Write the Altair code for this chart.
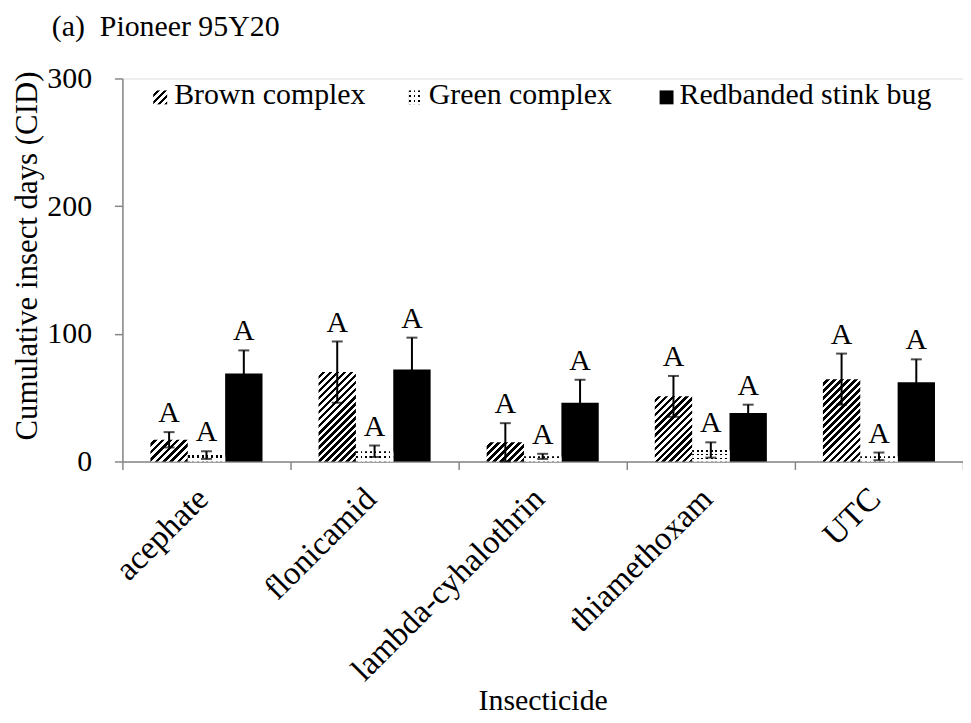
import altair as alt
import pandas as pd

# ---------------- data ----------------
insecticides = ["acephate", "flonicamid", "lambda-cyhalothrin", "thiamethoxam", "UTC"]
series = ["Brown complex", "Green complex", "Redbanded stink bug"]

brown_mean = [17, 70, 15, 51, 64.5]
brown_err = [6, 24, 15, 16, 20]
green_mean = [5, 8, 4, 9, 4]
green_err = [3, 4.5, 2, 6, 3]
red_mean = [69, 72, 46, 38, 62]
red_err = [18, 25, 18, 6.5, 18]

letters_brown = ["A", "A", "A", "A", "A"]
letters_green = ["A", "A", "A", "A", "A"]
letters_red = ["A", "A", "A", "A", "A"]

title_text = "(a)\u00a0 Pioneer 95Y20"

rows = []
for s, means, errs, lets in [
    (series[0], brown_mean, brown_err, letters_brown),
    (series[1], green_mean, green_err, letters_green),
    (series[2], red_mean, red_err, letters_red),
]:
    for c, m, e, l in zip(insecticides, means, errs, lets):
        rows.append({"insecticide": c, "series": s, "mean": m,
                     "lo": max(m - e, 0), "hi": m + e, "letter": l})
df = pd.DataFrame(rows)

# ---------------- layout / style ----------------
FONT = "Liberation Serif"
FS = 30
W, H = 845, 385
YMAX = 300
OUTER = 0.75
BAR_W = W / len(insecticides) / (len(series) + 2 * OUTER)
AXIS_GREY = "#868686"


def hatch(w, h, period=7.0):
    """diagonal '/' stripes via a linear gradient with hard stops"""
    k = (w + h) / (w * w + h * h)
    n = max(1, round((w + h) / period))
    stops = []
    for i in range(n):
        a, b, c = i / n, (i + 0.5) / n, (i + 1) / n
        stops += [alt.GradientStop(offset=a, color="white"),
                  alt.GradientStop(offset=b, color="white"),
                  alt.GradientStop(offset=b, color="black"),
                  alt.GradientStop(offset=c, color="black")]
    return alt.LinearGradient(gradient="linear", stops=stops,
                              x1=0, y1=0, x2=k * w, y2=k * h)


def vstripes(w, period=4.5, frac=0.4):
    n = max(1, round(w / period))
    stops = []
    for i in range(n):
        a, b, c = i / n, (i + frac) / n, (i + 1) / n
        stops += [alt.GradientStop(offset=a, color="black"),
                  alt.GradientStop(offset=b, color="black"),
                  alt.GradientStop(offset=b, color="white"),
                  alt.GradientStop(offset=c, color="white")]
    return alt.LinearGradient(gradient="linear", stops=stops, x1=0, y1=0, x2=1, y2=0)


def hmask(h, period=4.5, frac=0.4):
    n = max(1, round(h / period))
    clear = "rgba(255,255,255,0)"
    stops = []
    for i in range(n):
        a, b, c = i / n, (i + frac) / n, (i + 1) / n
        stops += [alt.GradientStop(offset=a, color=clear),
                  alt.GradientStop(offset=b, color=clear),
                  alt.GradientStop(offset=b, color="white"),
                  alt.GradientStop(offset=c, color="white")]
    return alt.LinearGradient(gradient="linear", stops=stops, x1=0, y1=0, x2=0, y2=1)


x_enc = alt.X("insecticide:N",
              scale=alt.Scale(domain=insecticides, paddingInner=0, paddingOuter=0),
              sort=insecticides,
              axis=alt.Axis(title="Insecticide", labelAngle=-45, labelAlign="right",
                            labelBaseline="middle", labelPadding=24, labelOffset=-4,
                            labelLimit=0, tickBand="extent",
                            tickSize=8, domainColor=AXIS_GREY, tickColor=AXIS_GREY,
                            domainWidth=1.5, tickWidth=1.5,
                            labelFont=FONT, labelFontSize=33, labelColor="black",
                            titleFont=FONT, titleFontSize=FS, titleFontWeight="normal",
                            titleColor="black", titleY=249, titleBaseline="alphabetic"))
xo_enc = alt.XOffset("series:N",
                     scale=alt.Scale(domain=series, paddingInner=0, paddingOuter=OUTER))

y_axis = alt.Axis(title="Cumulative insect days (CID)", values=[0, 100, 200, 300],
                  grid=False, tickSize=8, labelPadding=23, domainColor=AXIS_GREY,
                  tickColor=AXIS_GREY, domainWidth=1.5, tickWidth=1.5,
                  labelFont=FONT, labelFontSize=FS, labelColor="black",
                  titleFont=FONT, titleFontSize=FS + 1, titleFontWeight="normal",
                  titleColor="black", titleX=-86, titleY=178, titleAngle=-90,
                  titleAlign="center", titleBaseline="alphabetic")
y_scale = alt.Scale(domain=[0, YMAX], nice=False, zero=True)


def yq(field):
    return alt.Y(f"{field}:Q", scale=y_scale, axis=y_axis)


base = alt.Chart(df).encode(x=x_enc, xOffset=xo_enc)

layers = []
# Redbanded stink bug: solid black
layers.append(base.transform_filter(alt.datum.series == series[2])
              .mark_bar(color="black").encode(y=yq("mean")))
# Brown complex: hatched
for c, m in zip(insecticides, brown_mean):
    h = m * H / YMAX
    layers.append(base.transform_filter((alt.datum.series == series[0]) &
                                        (alt.datum.insecticide == c))
                  .mark_bar(color=hatch(BAR_W, h)).encode(y=yq("mean")))
# Green complex: dotted
for c, m in zip(insecticides, green_mean):
    h = m * H / YMAX
    f = base.transform_filter((alt.datum.series == series[1]) &
                              (alt.datum.insecticide == c))
    layers.append(f.mark_bar(color=vstripes(BAR_W)).encode(y=yq("mean")))
    layers.append(f.mark_bar(color=hmask(h)).encode(y=yq("mean")))

# error bars
layers.append(base.mark_rule(color="black", strokeWidth=2)
              .encode(y=yq("lo"), y2="hi:Q"))
layers.append(base.mark_tick(color="black", size=11, thickness=2).encode(y=yq("hi")))
layers.append(base.mark_tick(color="black", size=11, thickness=2).encode(y=yq("lo")))
# letters
layers.append(base.mark_text(font=FONT, fontSize=FS, baseline="alphabetic", dy=-10,
                             color="black")
              .encode(y=yq("hi"), text="letter:N"))

# manual legend (pattern swatches)
one = alt.Data(values=[{"k": 0}])
SW = 14
leg_y0, leg_y1 = 12, 26
swatch_x = [31, 288, 540]
text_x = [52, 308, 560]
sw_fills = [hatch(SW, SW), vstripes(SW), "black"]
for i, s in enumerate(series):
    layers.append(alt.Chart(one).mark_rect(color=sw_fills[i]).encode(
        x=alt.value(swatch_x[i]), x2=alt.value(swatch_x[i] + SW),
        y=alt.value(leg_y0), y2=alt.value(leg_y1)))
    if i == 1:
        layers.append(alt.Chart(one).mark_rect(color=hmask(SW)).encode(
            x=alt.value(swatch_x[i]), x2=alt.value(swatch_x[i] + SW),
            y=alt.value(leg_y0), y2=alt.value(leg_y1)))
    layers.append(alt.Chart(one).mark_text(text=s, font=FONT, fontSize=FS, align="left",
                                           baseline="alphabetic", color="black").encode(
        x=alt.value(text_x[i]), y=alt.value(leg_y1)))

# panel title
layers.append(alt.Chart(one).mark_text(text=title_text, font=FONT, fontSize=FS,
                                       align="left", baseline="alphabetic",
                                       color="black").encode(
    x=alt.value(-71), y=alt.value(-43)))

chart = alt.layer(*layers).properties(
    width=W, height=H,
    autosize=alt.AutoSizeParams(type="none"),
    padding={"left": 115, "top": 69, "right": 0, "bottom": 253},
).configure_view(stroke=None).configure(background="white")

chart.save("out.html", embed_options={"renderer": "svg", "actions": False})
